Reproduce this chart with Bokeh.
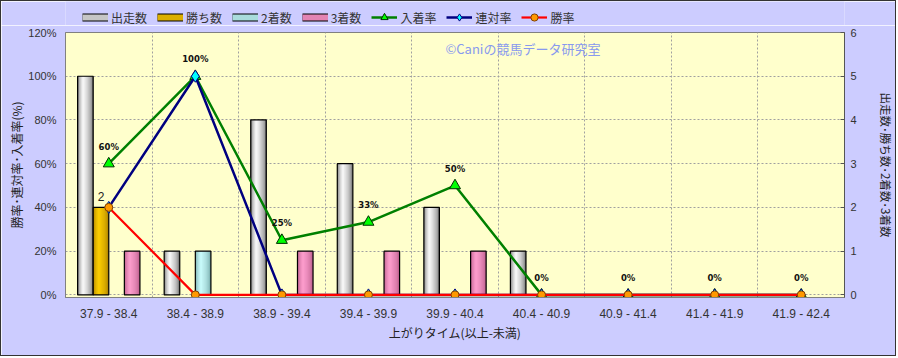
import math
from bokeh.plotting import figure
from bokeh.layouts import column
from bokeh.models import (ColumnDataSource, Range1d, LinearAxis, FixedTicker, FactorRange,
                          Legend, LegendItem, Label, PrintfTickFormatter)
from bokeh.transform import dodge
from bokeh.core.properties import value
from bokeh.embed import file_html
from bokeh.resources import INLINE

# ---------------- data ----------------
categories = ["37.9 - 38.4", "38.4 - 38.9", "38.9 - 39.4", "39.4 - 39.9", "39.9 - 40.4",
              "40.4 - 40.9", "40.9 - 41.4", "41.4 - 41.9", "41.9 - 42.4"]
runs = [5, 1, 4, 3, 2, 1, 0, 0, 0]          # 出走数
wins = [2, 0, 0, 0, 0, 0, 0, 0, 0]          # 勝ち数
seconds = [0, 1, 0, 0, 0, 0, 0, 0, 0]       # 2着数
thirds = [1, 0, 1, 1, 1, 0, 0, 0, 0]        # 3着数
show_rate = [60, 100, 25, 33.3, 50, 0, 0, 0, 0]   # 入着率 (%)
rentai_rate = [40, 100, 0, 0, 0, 0, 0, 0, 0]      # 連対率 (%)
win_rate = [40, 0, 0, 0, 0, 0, 0, 0, 0]           # 勝率 (%)
pct_ticks = [0, 20, 40, 60, 80, 100, 120]
cnt_ticks = [0, 1, 2, 3, 4, 5, 6]

JP = "Noto Sans CJK JP"
NUM = "Liberation Sans"
BG = "#CCCCFF"
EDGE = "1px solid #333333"


def mix(c1, c2, t):
    a = [int(c1[i:i + 2], 16) for i in (1, 3, 5)]
    b = [int(c2[i:i + 2], 16) for i in (1, 3, 5)]
    return "#%02x%02x%02x" % tuple(round(x + (y - x) * t) for x, y in zip(a, b))


# ---------------- main chart ----------------
p = figure(width=896, height=331,
           x_range=FactorRange(factors=categories, range_padding=0),
           y_range=Range1d(-1.2, 120),
           output_backend="svg", toolbar_location=None,
           min_border_left=64, min_border_right=53, min_border_top=7, min_border_bottom=59,
           background_fill_color="#FFFFCC", border_fill_color=BG,
           outline_line_color="#808080", outline_line_width=1,
           styles={"border-left": EDGE, "border-right": EDGE, "border-bottom": EDGE})
p.extra_y_ranges = {"cnt": Range1d(-0.06, 6)}

ly = p.yaxis[0]
ly.ticker = FixedTicker(ticks=pct_ticks)
ly.formatter = PrintfTickFormatter(format="%d%%")
ly.axis_label = "勝率･連対率･入着率(%)"
ly.major_tick_out = 0
ly.major_tick_in = 0
ly.minor_tick_line_color = None
ly.major_label_standoff = 9
ly.axis_label_standoff = 0
ly.axis_line_color = "#808080"

ry = LinearAxis(y_range_name="cnt", ticker=FixedTicker(ticks=cnt_ticks))
ry.axis_label = "出走数･勝ち数･2着数･3着数"
ry.major_tick_out = 0
ry.major_tick_in = 4
ry.minor_tick_line_color = None
ry.major_label_standoff = 6
ry.axis_label_standoff = 18
ry.axis_line_color = "#555555"
ry.major_tick_line_color = "#555555"
p.add_layout(ry, "right")

xa = p.xaxis[0]
xa.axis_label = "上がりタイム(以上-未満)"
xa.major_tick_line_color = None
xa.minor_tick_line_color = None
xa.major_tick_out = 0
xa.major_tick_in = 0
xa.major_label_standoff = 9
xa.axis_label_standoff = 0
xa.axis_line_color = "#808080"

for ax in (ly, ry, xa):
    ax.major_label_text_font = NUM
    ax.major_label_text_font_size = "11px"
    ax.major_label_text_color = "#333333"
    ax.axis_label_text_font = JP
    ax.axis_label_text_font_style = "normal"
    ax.axis_label_text_font_size = "12px"
    ax.axis_label_text_color = "#222222"
xa.major_label_text_font_size = "12px"
ry.axis_label_text_font_size = "11.5px"

p.ygrid.ticker = FixedTicker(ticks=pct_ticks)
p.xgrid.ticker = FixedTicker(ticks=list(range(1, len(categories))))
for g in (p.xgrid, p.ygrid):
    g.grid_line_color = "#A0A0A0"
    g.grid_line_dash = "2 2"
    g.grid_line_width = 1

# bars with cylinder-like shading
bar_w = 0.18
series = [
    ("出走数", runs, -0.27, "#707070", "#ffffff"),
    ("勝ち数", wins, -0.09, "#a87e00", "#ffd000"),
    ("2着数", seconds, 0.09, "#74a8a8", "#ccffff"),
    ("3着数", thirds, 0.27, "#b85a88", "#ffa0d0"),
]
L = 8
for name, vals, off, edge, hi in series:
    xs = [c for c, v in zip(categories, vals) if v > 0]
    tops = [v for v in vals if v > 0]
    src = ColumnDataSource(dict(x=xs, top=tops))
    for k in range(L):
        f = k / L
        w = bar_w * (1 - f)
        shift = -0.15 * bar_w * f
        p.vbar(x=dodge("x", off + shift, range=p.x_range), top="top", bottom=0, width=w,
               source=src, y_range_name="cnt", fill_color=mix(edge, hi, f ** 0.55),
               line_color=None)
    p.vbar(x=dodge("x", off, range=p.x_range), top="top", bottom=0, width=bar_w,
           source=src, y_range_name="cnt", fill_color=None, line_color="black", line_width=1.2)

# data label on 勝ち数
wx = [c for c, v in zip(categories, wins) if v > 0]
wt = [v for v in wins if v > 0]
win_src = ColumnDataSource(dict(x=wx, top=wt, label=[str(v) for v in wt]))
p.text(x=dodge("x", -0.09, range=p.x_range), y="top", text="label", source=win_src,
       y_range_name="cnt", text_align="center", text_baseline="bottom", y_offset=-6,
       text_font=value(NUM), text_font_size="12px", text_color="#222222")

# rate lines
LINE_STYLES = [
    ("入着率", "show", "#008000", 2.5, "triangle", 11, "#00FF00", "#003000"),
    ("連対率", "rentai", "#000080", 2.5, "diamond", 12, "#00FFFF", "#000080"),
    ("勝率", "win", "#FF0000", 2.2, "circle", 8, "#FF9900", "#804000"),
]
rate_src = ColumnDataSource(dict(x=categories, show=show_rate, rentai=rentai_rate, win=win_rate,
                                 show_lbl=["%d%%" % round(v) for v in show_rate]))
for name, col, lc, lw, mk, ms, mf, ml in LINE_STYLES:
    p.line("x", col, source=rate_src, line_color=lc, line_width=lw)
    p.scatter("x", col, source=rate_src, marker=mk, size=ms, fill_color=mf,
              line_color=ml, line_width=1)
p.text("x", "show", text="show_lbl", source=rate_src, text_align="center",
       text_baseline="middle", y_offset=-17, text_font=value("DejaVu Sans"),
       text_font_style="bold", text_font_size="8.5px", text_color="#111111")

# watermark
p.add_layout(Label(x=4.39, y=112.7, text="©Caniの競馬データ研究室", text_baseline="middle",
                   text_align="left", text_font=JP, text_font_size="13px",
                   text_color="#8899EE"))

# ---------------- legend strip (top of the chart) ----------------
lf = figure(width=896, height=25, x_range=Range1d(0, 1), y_range=Range1d(0, 1),
            output_backend="svg", toolbar_location=None,
            x_axis_type=None, y_axis_type=None,
            min_border_left=0, min_border_right=0, min_border_top=0, min_border_bottom=0,
            background_fill_color=BG, border_fill_color=BG, outline_line_color=None,
            styles={"border-left": EDGE, "border-right": EDGE, "border-top": EDGE})
lf.xgrid.visible = False
lf.ygrid.visible = False
dummy = ColumnDataSource(dict(x=[0.5], y=[float("nan")]))
items = []
for name, vals, off, edge, hi in series:
    r1 = lf.line("x", "y", source=dummy, line_color="black", line_width=8)
    r2 = lf.line("x", "y", source=dummy, line_color=mix(edge, hi, 0.6), line_width=6)
    items.append(LegendItem(label=name, renderers=[r1, r2]))
for name, col, lc, lw, mk, ms, mf, ml in LINE_STYLES:
    r1 = lf.line("x", "y", source=dummy, line_color=lc, line_width=lw)
    r2 = lf.scatter("x", "y", source=dummy, marker=mk, size=ms, fill_color=mf,
                    line_color=ml, line_width=1)
    items.append(LegendItem(label=name, renderers=[r1, r2]))

legend = Legend(items=items, orientation="horizontal", location=(17, 0),
                glyph_width=26, glyph_height=18, label_standoff=3, spacing=10,
                padding=0, margin=0, background_fill_alpha=0, border_line_alpha=0,
                label_text_font=JP, label_text_font_size="12px",
                label_text_color="#333333", label_height=14)
lf.add_layout(legend)

layout = column(lf, p, spacing=0)
open("out.html", "w").write(file_html(layout, INLINE))
